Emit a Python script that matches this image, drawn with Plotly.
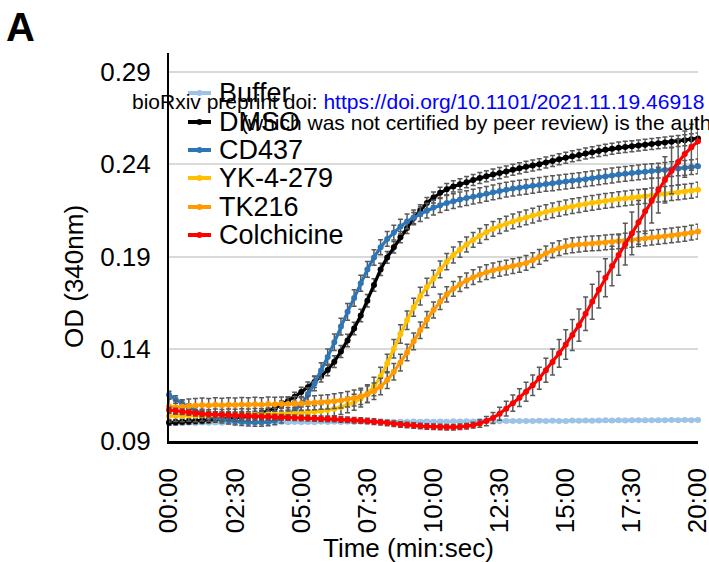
import plotly.graph_objects as go

# ---------------- data ----------------
time_min = [i * 0.25 for i in range(81)]  # sampling every 15 s, 00:00 .. 20:00

tick_vals = [0, 2.5, 5, 7.5, 10, 12.5, 15, 17.5, 20]
tick_text = ["00:00", "02:30", "05:00", "07:30", "10:00", "12:30", "15:00", "17:30", "20:00"]
y_ticks = [0.09, 0.14, 0.19, 0.24, 0.29]

series_names = ["Buffer", "DMSO", "CD437", "YK-4-279", "TK216", "Colchicine"]
series_colors = ["#9DC3E6", "#000000", "#2E75B6", "#FFC000", "#FF9A00", "#FF0000"]

buffer_od = [
    0.0996, 0.0998, 0.0997, 0.0999, 0.0998, 0.1000, 0.0999, 0.1000, 0.0999, 0.1001,
    0.1000, 0.1001, 0.1000, 0.1002, 0.1001, 0.1002, 0.1001, 0.1003, 0.1002, 0.1003,
    0.1002, 0.1003, 0.1002, 0.1004, 0.1003, 0.1004, 0.1003, 0.1004, 0.1003, 0.1005,
    0.1004, 0.1004, 0.1003, 0.1005, 0.1004, 0.1005, 0.1004, 0.1006, 0.1005, 0.1006,
    0.1005, 0.1006, 0.1005, 0.1007, 0.1006, 0.1007, 0.1006, 0.1008, 0.1007, 0.1008,
    0.1007, 0.1008, 0.1009, 0.1008, 0.1009, 0.1008, 0.1010, 0.1009, 0.1010, 0.1009,
    0.1008, 0.1011, 0.1010, 0.1011, 0.1010, 0.1011, 0.1012, 0.1011, 0.1012, 0.1011,
    0.1012, 0.1013, 0.1012, 0.1013, 0.1012, 0.1013, 0.1014, 0.1013, 0.1014, 0.1013,
    0.1014]
buffer_err = [
    0.0006, 0.0006, 0.0006, 0.0006, 0.0006, 0.0006, 0.0006, 0.0006, 0.0006, 0.0006,
    0.0006, 0.0006, 0.0006, 0.0006, 0.0006, 0.0006, 0.0006, 0.0006, 0.0006, 0.0006,
    0.0006, 0.0006, 0.0006, 0.0006, 0.0006, 0.0006, 0.0006, 0.0006, 0.0006, 0.0006,
    0.0006, 0.0006, 0.0006, 0.0006, 0.0006, 0.0006, 0.0006, 0.0006, 0.0006, 0.0006,
    0.0006, 0.0006, 0.0006, 0.0006, 0.0006, 0.0006, 0.0006, 0.0006, 0.0006, 0.0006,
    0.0006, 0.0006, 0.0006, 0.0006, 0.0006, 0.0006, 0.0006, 0.0006, 0.0006, 0.0006,
    0.0006, 0.0006, 0.0006, 0.0006, 0.0006, 0.0006, 0.0006, 0.0006, 0.0006, 0.0006,
    0.0006, 0.0006, 0.0006, 0.0006, 0.0006, 0.0006, 0.0006, 0.0006, 0.0006, 0.0006,
    0.0006]

dmso_od = [
    0.1000, 0.1002, 0.1004, 0.1006, 0.1008, 0.1010, 0.1013, 0.1016, 0.1019, 0.1022,
    0.1025, 0.1029, 0.1033, 0.1040, 0.1050, 0.1062, 0.1078, 0.1097, 0.1117, 0.1140,
    0.1165, 0.1192, 0.1220, 0.1250, 0.1285, 0.1330, 0.1385, 0.1445, 0.1510, 0.1580,
    0.1660, 0.1745, 0.1830, 0.1895, 0.1950, 0.2005, 0.2055, 0.2108, 0.2150, 0.2190,
    0.2220, 0.2245, 0.2265, 0.2280, 0.2292, 0.2303, 0.2315, 0.2325, 0.2335, 0.2344,
    0.2352, 0.2361, 0.2370, 0.2378, 0.2386, 0.2393, 0.2400, 0.2409, 0.2418, 0.2427,
    0.2435, 0.2443, 0.2450, 0.2458, 0.2465, 0.2472, 0.2478, 0.2484, 0.2490, 0.2494,
    0.2498, 0.2502, 0.2506, 0.2510, 0.2514, 0.2518, 0.2522, 0.2526, 0.2530, 0.2535,
    0.2540]
dmso_err = [
    0.0015, 0.0015, 0.0015, 0.0015, 0.0015, 0.0015, 0.0015, 0.0015, 0.0015, 0.0015,
    0.0015, 0.0015, 0.0015, 0.0015, 0.0015, 0.0015, 0.0018, 0.0020, 0.0022, 0.0024,
    0.0026, 0.0028, 0.0030, 0.0030, 0.0031, 0.0032, 0.0033, 0.0034, 0.0034, 0.0034,
    0.0034, 0.0034, 0.0033, 0.0032, 0.0031, 0.0030, 0.0030, 0.0030, 0.0030, 0.0030,
    0.0030, 0.0030, 0.0030, 0.0030, 0.0030, 0.0030, 0.0030, 0.0030, 0.0030, 0.0030,
    0.0030, 0.0030, 0.0030, 0.0030, 0.0030, 0.0030, 0.0030, 0.0030, 0.0030, 0.0030,
    0.0030, 0.0030, 0.0030, 0.0030, 0.0030, 0.0030, 0.0030, 0.0030, 0.0030, 0.0030,
    0.0030, 0.0030, 0.0030, 0.0030, 0.0030, 0.0030, 0.0030, 0.0030, 0.0030, 0.0030,
    0.0030]

cd437_od = [
    0.1150, 0.1125, 0.1102, 0.1082, 0.1063, 0.1048, 0.1036, 0.1026, 0.1018, 0.1012,
    0.1007, 0.1004, 0.1001, 0.1000, 0.1000, 0.1003, 0.1010, 0.1022, 0.1040, 0.1065,
    0.1100, 0.1150, 0.1212, 0.1282, 0.1355, 0.1435, 0.1520, 0.1600, 0.1675, 0.1755,
    0.1830, 0.1895, 0.1950, 0.1995, 0.2030, 0.2062, 0.2090, 0.2112, 0.2130, 0.2148,
    0.2165, 0.2178, 0.2190, 0.2200, 0.2209, 0.2217, 0.2224, 0.2232, 0.2240, 0.2248,
    0.2255, 0.2262, 0.2268, 0.2273, 0.2278, 0.2283, 0.2288, 0.2293, 0.2297, 0.2302,
    0.2306, 0.2310, 0.2314, 0.2319, 0.2324, 0.2329, 0.2334, 0.2339, 0.2344, 0.2348,
    0.2352, 0.2356, 0.2360, 0.2363, 0.2366, 0.2369, 0.2373, 0.2377, 0.2381, 0.2385,
    0.2389]
cd437_err = [
    0.0020, 0.0020, 0.0020, 0.0020, 0.0020, 0.0020, 0.0020, 0.0020, 0.0020, 0.0020,
    0.0020, 0.0020, 0.0020, 0.0020, 0.0020, 0.0020, 0.0022, 0.0025, 0.0028, 0.0031,
    0.0034, 0.0037, 0.0040, 0.0042, 0.0044, 0.0045, 0.0045, 0.0045, 0.0045, 0.0044,
    0.0043, 0.0042, 0.0041, 0.0040, 0.0040, 0.0040, 0.0040, 0.0040, 0.0040, 0.0040,
    0.0040, 0.0040, 0.0040, 0.0040, 0.0040, 0.0040, 0.0040, 0.0040, 0.0040, 0.0040,
    0.0040, 0.0040, 0.0040, 0.0040, 0.0040, 0.0040, 0.0040, 0.0040, 0.0040, 0.0040,
    0.0040, 0.0040, 0.0040, 0.0040, 0.0040, 0.0040, 0.0040, 0.0040, 0.0040, 0.0040,
    0.0040, 0.0040, 0.0040, 0.0040, 0.0040, 0.0040, 0.0040, 0.0040, 0.0040, 0.0040,
    0.0040]

yk4279_od = [
    0.1035, 0.1038, 0.1036, 0.1039, 0.1037, 0.1040, 0.1038, 0.1041, 0.1039, 0.1042,
    0.1040, 0.1043, 0.1041, 0.1044, 0.1043, 0.1046, 0.1045, 0.1048, 0.1048, 0.1051,
    0.1052, 0.1055, 0.1058, 0.1063, 0.1068, 0.1075, 0.1083, 0.1095, 0.1110, 0.1130,
    0.1157, 0.1195, 0.1250, 0.1320, 0.1400, 0.1480, 0.1555, 0.1625, 0.1685, 0.1735,
    0.1780, 0.1830, 0.1872, 0.1908, 0.1938, 0.1965, 0.1990, 0.2012, 0.2032, 0.2050,
    0.2065, 0.2078, 0.2090, 0.2101, 0.2112, 0.2122, 0.2132, 0.2141, 0.2150, 0.2158,
    0.2166, 0.2173, 0.2179, 0.2185, 0.2191, 0.2196, 0.2201, 0.2206, 0.2211, 0.2215,
    0.2219, 0.2223, 0.2227, 0.2231, 0.2235, 0.2239, 0.2243, 0.2247, 0.2251, 0.2256,
    0.2262]
yk4279_err = [
    0.0032, 0.0032, 0.0032, 0.0032, 0.0032, 0.0032, 0.0032, 0.0032, 0.0032, 0.0032,
    0.0032, 0.0032, 0.0032, 0.0032, 0.0032, 0.0032, 0.0032, 0.0032, 0.0032, 0.0032,
    0.0032, 0.0033, 0.0034, 0.0035, 0.0036, 0.0038, 0.0040, 0.0042, 0.0044, 0.0046,
    0.0048, 0.0050, 0.0050, 0.0050, 0.0050, 0.0050, 0.0050, 0.0049, 0.0048, 0.0047,
    0.0046, 0.0045, 0.0044, 0.0043, 0.0042, 0.0041, 0.0040, 0.0040, 0.0040, 0.0040,
    0.0040, 0.0040, 0.0040, 0.0040, 0.0040, 0.0040, 0.0040, 0.0040, 0.0040, 0.0040,
    0.0040, 0.0040, 0.0040, 0.0040, 0.0040, 0.0040, 0.0040, 0.0040, 0.0040, 0.0040,
    0.0040, 0.0040, 0.0040, 0.0040, 0.0040, 0.0040, 0.0040, 0.0040, 0.0040, 0.0040,
    0.0040]

tk216_od = [
    0.1088, 0.1083, 0.1086, 0.1090, 0.1092, 0.1095, 0.1093, 0.1096, 0.1094, 0.1097,
    0.1095, 0.1098, 0.1096, 0.1099, 0.1097, 0.1100, 0.1099, 0.1101, 0.1100, 0.1103,
    0.1103, 0.1106, 0.1107, 0.1110, 0.1112, 0.1116, 0.1120, 0.1126, 0.1133, 0.1142,
    0.1153, 0.1170, 0.1195, 0.1230, 0.1275, 0.1325, 0.1380, 0.1440, 0.1500, 0.1558,
    0.1610, 0.1655, 0.1695, 0.1725, 0.1750, 0.1770, 0.1788, 0.1803, 0.1815, 0.1825,
    0.1833, 0.1840, 0.1848, 0.1855, 0.1865, 0.1880, 0.1898, 0.1917, 0.1933, 0.1945,
    0.1955, 0.1961, 0.1965, 0.1968, 0.1971, 0.1973, 0.1976, 0.1979, 0.1982, 0.1986,
    0.1990, 0.1994, 0.1998, 0.2002, 0.2006, 0.2010, 0.2014, 0.2018, 0.2023, 0.2029,
    0.2035]
tk216_err = [
    0.0038, 0.0038, 0.0038, 0.0038, 0.0038, 0.0038, 0.0038, 0.0038, 0.0038, 0.0038,
    0.0038, 0.0038, 0.0038, 0.0038, 0.0038, 0.0038, 0.0038, 0.0038, 0.0038, 0.0038,
    0.0038, 0.0038, 0.0038, 0.0038, 0.0039, 0.0040, 0.0041, 0.0042, 0.0043, 0.0044,
    0.0045, 0.0045, 0.0045, 0.0045, 0.0045, 0.0045, 0.0045, 0.0045, 0.0045, 0.0044,
    0.0043, 0.0042, 0.0041, 0.0040, 0.0040, 0.0040, 0.0040, 0.0040, 0.0040, 0.0040,
    0.0040, 0.0040, 0.0040, 0.0040, 0.0040, 0.0040, 0.0040, 0.0040, 0.0040, 0.0040,
    0.0040, 0.0040, 0.0040, 0.0040, 0.0040, 0.0040, 0.0040, 0.0040, 0.0040, 0.0040,
    0.0040, 0.0040, 0.0040, 0.0040, 0.0040, 0.0040, 0.0040, 0.0040, 0.0040, 0.0040,
    0.0040]

colchicine_od = [
    0.1068, 0.1063, 0.1058, 0.1054, 0.1050, 0.1047, 0.1045, 0.1043, 0.1042, 0.1041,
    0.1040, 0.1038, 0.1036, 0.1034, 0.1032, 0.1031, 0.1030, 0.1029, 0.1027, 0.1026,
    0.1025, 0.1024, 0.1022, 0.1021, 0.1020, 0.1019, 0.1017, 0.1015, 0.1013, 0.1011,
    0.1008, 0.1005, 0.1002, 0.0998, 0.0994, 0.0990, 0.0987, 0.0984, 0.0981, 0.0979,
    0.0977, 0.0976, 0.0975, 0.0975, 0.0977, 0.0980, 0.0986, 0.0995, 0.1008, 0.1025,
    0.1048, 0.1075, 0.1105, 0.1135, 0.1167, 0.1202, 0.1240, 0.1283, 0.1328, 0.1375,
    0.1423, 0.1474, 0.1528, 0.1590, 0.1655, 0.1720, 0.1785, 0.1848, 0.1908, 0.1967,
    0.2025, 0.2085, 0.2145, 0.2203, 0.2260, 0.2315, 0.2365, 0.2412, 0.2455, 0.2492,
    0.2525]
colchicine_err = [
    0.0015, 0.0015, 0.0015, 0.0015, 0.0015, 0.0015, 0.0015, 0.0015, 0.0015, 0.0015,
    0.0015, 0.0015, 0.0015, 0.0015, 0.0015, 0.0015, 0.0015, 0.0015, 0.0015, 0.0015,
    0.0015, 0.0015, 0.0015, 0.0015, 0.0015, 0.0015, 0.0015, 0.0015, 0.0015, 0.0015,
    0.0015, 0.0015, 0.0015, 0.0015, 0.0015, 0.0015, 0.0015, 0.0015, 0.0015, 0.0015,
    0.0015, 0.0015, 0.0015, 0.0015, 0.0015, 0.0015, 0.0015, 0.0020, 0.0025, 0.0030,
    0.0035, 0.0040, 0.0044, 0.0048, 0.0052, 0.0056, 0.0060, 0.0065, 0.0070, 0.0075,
    0.0080, 0.0084, 0.0087, 0.0091, 0.0095, 0.0099, 0.0103, 0.0107, 0.0110, 0.0113,
    0.0116, 0.0118, 0.0120, 0.0122, 0.0124, 0.0125, 0.0125, 0.0125, 0.0125, 0.0125,
    0.0125]

series_values = [buffer_od, dmso_od, cd437_od, yk4279_od, tk216_od, colchicine_od]
series_errors = [buffer_err, dmso_err, cd437_err, yk4279_err, tk216_err, colchicine_err]

# ---------------- layout helpers (pixel -> paper) ----------------
W, H = 709, 562
PL, PR, PT, PB = 169, 698, 53, 441


def px(x):
    return (x - PL) / (PR - PL)


def py(y):
    return (PB - y) / (PB - PT)


FONT = "Liberation Sans, Arial, Helvetica, sans-serif"

fig = go.Figure()
for name, color, vals, errs in zip(series_names, series_colors, series_values, series_errors):
    fig.add_trace(go.Scatter(
        x=time_min, y=vals, name=name, mode="lines+markers",
        line=dict(color=color, width=3.2),
        marker=dict(color=color, size=6),
        error_y=dict(type="data", array=errs, visible=True,
                     color="#595959", thickness=1.5, width=2.5),
        cliponaxis=False, showlegend=False,
    ))

annotations = []
shapes = []

# manual legend (Excel-like tight spacing)
legend_y = [93, 122, 150, 178, 207, 235]
for name, color, ly in zip(series_names, series_colors, legend_y):
    shapes.append(dict(type="line", xref="paper", yref="paper",
                       x0=px(188), x1=px(211), y0=py(ly), y1=py(ly),
                       line=dict(color=color, width=4)))
    shapes.append(dict(type="circle", xref="paper", yref="paper",
                       x0=px(196.5), x1=px(202.5), y0=py(ly + 3), y1=py(ly - 3),
                       fillcolor=color, line=dict(color=color, width=0)))
    annotations.append(dict(text=name, xref="paper", yref="paper",
                            x=px(217), y=py(ly), xanchor="left", yanchor="middle",
                            showarrow=False, font=dict(size=27, color="#000000", family=FONT)))

# axis titles
annotations.append(dict(text="OD (340nm)", xref="paper", yref="paper",
                        x=px(74), y=py(277), textangle=-90, xanchor="center", yanchor="middle",
                        showarrow=False, font=dict(size=26, color="#000000", family=FONT)))
annotations.append(dict(text="Time (min:sec)", xref="paper", yref="paper",
                        x=px(408), y=py(548), xanchor="center", yanchor="middle",
                        showarrow=False, font=dict(size=26, color="#000000", family=FONT)))
# panel letter
annotations.append(dict(text="<b>A</b>", xref="paper", yref="paper",
                        x=px(4), y=py(27), xanchor="left", yanchor="middle",
                        showarrow=False, font=dict(size=40, color="#000000", family=FONT)))
# bioRxiv watermark
annotations.append(dict(text="bioRxiv preprint doi: <span style='color:#0000FF'>https://doi.org/10.1101/2021.11.19.46918</span>",
                        xref="paper", yref="paper", x=px(130), y=py(101),
                        xanchor="left", yanchor="middle", showarrow=False,
                        font=dict(size=21, color="#000000", family=FONT)))
annotations.append(dict(text="(which was not certified by peer review) is the auth",
                        xref="paper", yref="paper", x=px(239), y=py(122),
                        xanchor="left", yanchor="middle", showarrow=False,
                        font=dict(size=21, color="#000000", family=FONT)))

fig.update_layout(
    width=W, height=H,
    margin=dict(l=PL, r=W - PR, t=PT, b=H - PB, pad=0),
    paper_bgcolor="white", plot_bgcolor="white",
    font=dict(family=FONT, size=26, color="#000000"),
    showlegend=False,
    annotations=annotations, shapes=shapes,
    xaxis=dict(range=[0, 20.0001], tickmode="array", tickvals=tick_vals, ticktext=tick_text,
               tickangle=-90, ticklabeloverflow="allow",
               showgrid=False, zeroline=False, showline=True, linecolor="#000000", linewidth=2.5,
               ticks="outside", ticklen=14, tickcolor="rgba(0,0,0,0)", automargin=False,
               tickfont=dict(size=26, color="#000000", family=FONT)),
    yaxis=dict(range=[0.09, 0.09 + (PB - PT) / 92.25 * 0.05], tickvals=y_ticks,
               tickformat=".2f", showgrid=True, gridcolor="#D9D9D9", gridwidth=2,
               zeroline=False, showline=True, linecolor="#000000", linewidth=2,
               ticks="outside", ticklen=11, tickcolor="rgba(0,0,0,0)", automargin=False,
               tickfont=dict(size=26, color="#000000", family=FONT)),
)

fig.write_html("out.html", config={"displayModeBar": False},
               post_script="document.body.style.margin='0';document.body.style.overflow='hidden';")
